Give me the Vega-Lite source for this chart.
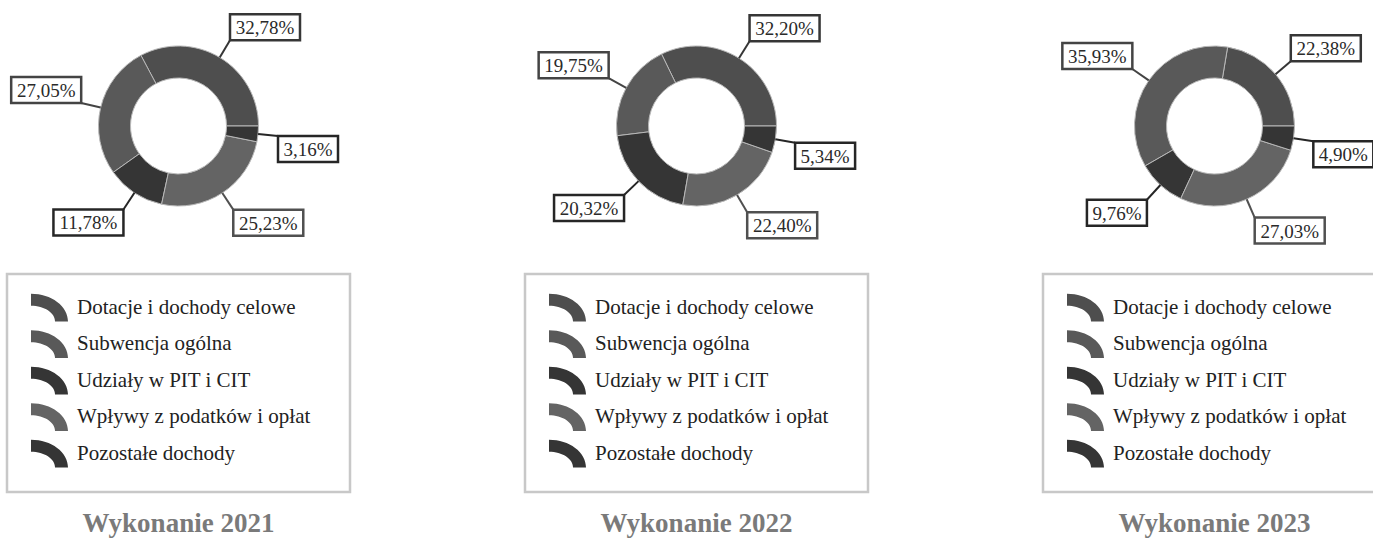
{
  "$schema": "https://vega.github.io/schema/vega-lite/v6.json",
  "background": "white",
  "padding": {"left": 5, "top": 0, "right": 0, "bottom": 0},
  "datasets": {
    "d": [
      {"year": 2021, "i": 1, "cat": "Dotacje i dochody celowe", "v": 32.78},
      {"year": 2021, "i": 2, "cat": "Subwencja ogólna", "v": 27.05},
      {"year": 2021, "i": 3, "cat": "Udziały w PIT i CIT", "v": 11.78},
      {"year": 2021, "i": 4, "cat": "Wpływy z podatków i opłat", "v": 25.23},
      {"year": 2021, "i": 5, "cat": "Pozostałe dochody", "v": 3.16},
      {"year": 2022, "i": 1, "cat": "Dotacje i dochody celowe", "v": 32.20},
      {"year": 2022, "i": 2, "cat": "Subwencja ogólna", "v": 19.75},
      {"year": 2022, "i": 3, "cat": "Udziały w PIT i CIT", "v": 20.32},
      {"year": 2022, "i": 4, "cat": "Wpływy z podatków i opłat", "v": 22.40},
      {"year": 2022, "i": 5, "cat": "Pozostałe dochody", "v": 5.34},
      {"year": 2023, "i": 1, "cat": "Dotacje i dochody celowe", "v": 22.38},
      {"year": 2023, "i": 2, "cat": "Subwencja ogólna", "v": 35.93},
      {"year": 2023, "i": 3, "cat": "Udziały w PIT i CIT", "v": 9.76},
      {"year": 2023, "i": 4, "cat": "Wpływy z podatków i opłat", "v": 27.03},
      {"year": 2023, "i": 5, "cat": "Pozostałe dochody", "v": 4.90}
    ]
  },
  "spacing": 171,
  "resolve": {"legend": {"color": "independent", "stroke": "independent"}, "scale": {"theta": "independent"}},
  "hconcat": [
    {
      "spacing": 20,
      "resolve": {"legend": {"color": "independent", "stroke": "independent"}, "scale": {"theta": "independent"}},
      "vconcat": [
        {
          "width": 343, "height": 252,
          "view": {"stroke": null},
          "data": {"name": "d"},
          "transform": [
            {"filter": "datum.year == 2021"},
            {"joinaggregate": [{"op": "sum", "field": "v", "as": "tot"}]},
            {"window": [{"op": "sum", "field": "v", "as": "cum"}], "sort": [{"field": "i"}], "frame": [null, 0]},
            {"calculate": "2*PI*(datum.cum - datum.v/2)/datum.tot", "as": "a"},
            {"calculate": "replace(format(datum.v, '.2f'), '.', ',') + '%'", "as": "lab"},
            {"calculate": "10*length(datum.lab) + 10", "as": "w"},
            {"calculate": "80*cos(datum.a)", "as": "x1"},
            {"calculate": "80*sin(datum.a)", "as": "y1"},
            {"calculate": "100*cos(datum.a)", "as": "x2"},
            {"calculate": "100*sin(datum.a)", "as": "y2"},
            {"calculate": "datum.x2 + (cos(datum.a) >= 0 ? 1 : -1)*datum.w/2", "as": "bx"},
            {"calculate": "datum.y2 + (sin(datum.a) >= 0 ? 1 : -1)*13", "as": "by"},
            {"calculate": "datum.bx - datum.w/2", "as": "bx1"},
            {"calculate": "datum.bx + datum.w/2", "as": "bx2"},
            {"calculate": "datum.by - 13", "as": "by1"},
            {"calculate": "datum.by + 13", "as": "by2"}
          ],
          "layer": [
            {
              "mark": {"type": "arc", "outerRadius": 80, "innerRadius": 48, "stroke": "#b8b8b8", "strokeWidth": 1},
              "encoding": {
                "theta": {"field": "v", "type": "quantitative", "stack": true, "scale": {"range": [1.5707963, -4.712389], "nice": false, "zero": true}},
                "order": {"field": "i", "type": "quantitative"},
                "color": {"field": "cat", "type": "nominal", "scale": {"domain": ["Dotacje i dochody celowe", "Subwencja ogólna", "Udziały w PIT i CIT", "Wpływy z podatków i opłat", "Pozostałe dochody"], "range": ["#4e4e4e", "#595959", "#353535", "#646464", "#353535"]}, "legend": null}
              }
            },
            {
              "mark": {"type": "rule", "strokeWidth": 2},
              "encoding": {
                "x": {"field": "x1", "type": "quantitative", "scale": {"domain": [-171.5, 171.5], "nice": false, "zero": false}, "axis": null},
                "y": {"field": "y1", "type": "quantitative", "scale": {"domain": [-126, 126], "nice": false, "zero": false}, "axis": null},
                "x2": {"field": "x2"},
                "y2": {"field": "y2"},
                "stroke": {"field": "cat", "type": "nominal", "scale": {"domain": ["Dotacje i dochody celowe", "Subwencja ogólna", "Udziały w PIT i CIT", "Wpływy z podatków i opłat", "Pozostałe dochody"], "range": ["#363636", "#444444", "#262626", "#505050", "#262626"]}, "legend": null}
              }
            },
            {
              "mark": {"type": "rect", "fill": "white", "strokeWidth": 2.5},
              "encoding": {
                "x": {"field": "bx1", "type": "quantitative"},
                "x2": {"field": "bx2"},
                "y": {"field": "by1", "type": "quantitative"},
                "y2": {"field": "by2"},
                "stroke": {"field": "cat", "type": "nominal", "legend": null}
              }
            },
            {
              "mark": {"type": "text", "font": "Liberation Serif", "fontSize": 19, "color": "#2a2a2a", "align": "center", "baseline": "middle", "dy": 1},
              "encoding": {
                "x": {"field": "bx", "type": "quantitative"},
                "y": {"field": "by", "type": "quantitative"},
                "text": {"field": "lab"}
              }
            }
          ]
        },
        {
          "width": 343, "height": 218,
          "view": {"stroke": "#c8c8c8", "strokeWidth": 2.5},
          "data": {"name": "d"},
          "transform": [{"filter": "datum.year == 2021"}],
          "title": {"text": "Wykonanie 2021", "orient": "bottom", "anchor": "middle", "offset": 19, "font": "Liberation Serif", "fontSize": 27, "fontWeight": "bold", "color": "#7a7a7a"},
          "mark": {"type": "point", "filled": true, "opacity": 0},
          "encoding": {
            "color": {"field": "cat", "type": "nominal", "scale": {"domain": ["Dotacje i dochody celowe", "Subwencja ogólna", "Udziały w PIT i CIT", "Wpływy z podatków i opłat", "Pozostałe dochody"], "range": ["#4e4e4e", "#595959", "#353535", "#646464", "#353535"]},
              "legend": {"orient": "none", "legendX": 24, "legendY": 15, "title": null, "symbolType": "M-1,-0.75A2,1.5 0 0 1 1,0.75L0.3,0.75A1.3,0.85 0 0 0 -1,-0.1Z", "symbolSize": 1369, "symbolOpacity": 1, "symbolStrokeWidth": 0, "labelFont": "Liberation Serif", "labelFontSize": 21, "labelColor": "#222222", "labelOffset": 9, "rowPadding": 3.5, "labelLimit": 400}}
          }
        }
      ]
    },
    {
      "spacing": 20,
      "resolve": {"legend": {"color": "independent", "stroke": "independent"}, "scale": {"theta": "independent"}},
      "vconcat": [
        {
          "width": 343, "height": 252,
          "view": {"stroke": null},
          "data": {"name": "d"},
          "transform": [
            {"filter": "datum.year == 2022"},
            {"joinaggregate": [{"op": "sum", "field": "v", "as": "tot"}]},
            {"window": [{"op": "sum", "field": "v", "as": "cum"}], "sort": [{"field": "i"}], "frame": [null, 0]},
            {"calculate": "2*PI*(datum.cum - datum.v/2)/datum.tot", "as": "a"},
            {"calculate": "replace(format(datum.v, '.2f'), '.', ',') + '%'", "as": "lab"},
            {"calculate": "10*length(datum.lab) + 10", "as": "w"},
            {"calculate": "80*cos(datum.a)", "as": "x1"},
            {"calculate": "80*sin(datum.a)", "as": "y1"},
            {"calculate": "100*cos(datum.a)", "as": "x2"},
            {"calculate": "100*sin(datum.a)", "as": "y2"},
            {"calculate": "datum.x2 + (cos(datum.a) >= 0 ? 1 : -1)*datum.w/2", "as": "bx"},
            {"calculate": "datum.y2 + (sin(datum.a) >= 0 ? 1 : -1)*13", "as": "by"},
            {"calculate": "datum.bx - datum.w/2", "as": "bx1"},
            {"calculate": "datum.bx + datum.w/2", "as": "bx2"},
            {"calculate": "datum.by - 13", "as": "by1"},
            {"calculate": "datum.by + 13", "as": "by2"}
          ],
          "layer": [
            {
              "mark": {"type": "arc", "outerRadius": 80, "innerRadius": 48, "stroke": "#b8b8b8", "strokeWidth": 1},
              "encoding": {
                "theta": {"field": "v", "type": "quantitative", "stack": true, "scale": {"range": [1.5707963, -4.712389], "nice": false, "zero": true}},
                "order": {"field": "i", "type": "quantitative"},
                "color": {"field": "cat", "type": "nominal", "scale": {"domain": ["Dotacje i dochody celowe", "Subwencja ogólna", "Udziały w PIT i CIT", "Wpływy z podatków i opłat", "Pozostałe dochody"], "range": ["#4e4e4e", "#595959", "#353535", "#646464", "#353535"]}, "legend": null}
              }
            },
            {
              "mark": {"type": "rule", "strokeWidth": 2},
              "encoding": {
                "x": {"field": "x1", "type": "quantitative", "scale": {"domain": [-171.5, 171.5], "nice": false, "zero": false}, "axis": null},
                "y": {"field": "y1", "type": "quantitative", "scale": {"domain": [-126, 126], "nice": false, "zero": false}, "axis": null},
                "x2": {"field": "x2"},
                "y2": {"field": "y2"},
                "stroke": {"field": "cat", "type": "nominal", "scale": {"domain": ["Dotacje i dochody celowe", "Subwencja ogólna", "Udziały w PIT i CIT", "Wpływy z podatków i opłat", "Pozostałe dochody"], "range": ["#363636", "#444444", "#262626", "#505050", "#262626"]}, "legend": null}
              }
            },
            {
              "mark": {"type": "rect", "fill": "white", "strokeWidth": 2.5},
              "encoding": {
                "x": {"field": "bx1", "type": "quantitative"},
                "x2": {"field": "bx2"},
                "y": {"field": "by1", "type": "quantitative"},
                "y2": {"field": "by2"},
                "stroke": {"field": "cat", "type": "nominal", "legend": null}
              }
            },
            {
              "mark": {"type": "text", "font": "Liberation Serif", "fontSize": 19, "color": "#2a2a2a", "align": "center", "baseline": "middle", "dy": 1},
              "encoding": {
                "x": {"field": "bx", "type": "quantitative"},
                "y": {"field": "by", "type": "quantitative"},
                "text": {"field": "lab"}
              }
            }
          ]
        },
        {
          "width": 343, "height": 218,
          "view": {"stroke": "#c8c8c8", "strokeWidth": 2.5},
          "data": {"name": "d"},
          "transform": [{"filter": "datum.year == 2022"}],
          "title": {"text": "Wykonanie 2022", "orient": "bottom", "anchor": "middle", "offset": 19, "font": "Liberation Serif", "fontSize": 27, "fontWeight": "bold", "color": "#7a7a7a"},
          "mark": {"type": "point", "filled": true, "opacity": 0},
          "encoding": {
            "color": {"field": "cat", "type": "nominal", "scale": {"domain": ["Dotacje i dochody celowe", "Subwencja ogólna", "Udziały w PIT i CIT", "Wpływy z podatków i opłat", "Pozostałe dochody"], "range": ["#4e4e4e", "#595959", "#353535", "#646464", "#353535"]},
              "legend": {"orient": "none", "legendX": 24, "legendY": 15, "title": null, "symbolType": "M-1,-0.75A2,1.5 0 0 1 1,0.75L0.3,0.75A1.3,0.85 0 0 0 -1,-0.1Z", "symbolSize": 1369, "symbolOpacity": 1, "symbolStrokeWidth": 0, "labelFont": "Liberation Serif", "labelFontSize": 21, "labelColor": "#222222", "labelOffset": 9, "rowPadding": 3.5, "labelLimit": 400}}
          }
        }
      ]
    },
    {
      "spacing": 20,
      "resolve": {"legend": {"color": "independent", "stroke": "independent"}, "scale": {"theta": "independent"}},
      "vconcat": [
        {
          "width": 343, "height": 252,
          "view": {"stroke": null},
          "data": {"name": "d"},
          "transform": [
            {"filter": "datum.year == 2023"},
            {"joinaggregate": [{"op": "sum", "field": "v", "as": "tot"}]},
            {"window": [{"op": "sum", "field": "v", "as": "cum"}], "sort": [{"field": "i"}], "frame": [null, 0]},
            {"calculate": "2*PI*(datum.cum - datum.v/2)/datum.tot", "as": "a"},
            {"calculate": "replace(format(datum.v, '.2f'), '.', ',') + '%'", "as": "lab"},
            {"calculate": "10*length(datum.lab) + 10", "as": "w"},
            {"calculate": "80*cos(datum.a)", "as": "x1"},
            {"calculate": "80*sin(datum.a)", "as": "y1"},
            {"calculate": "100*cos(datum.a)", "as": "x2"},
            {"calculate": "100*sin(datum.a)", "as": "y2"},
            {"calculate": "datum.x2 + (cos(datum.a) >= 0 ? 1 : -1)*datum.w/2", "as": "bx"},
            {"calculate": "datum.y2 + (sin(datum.a) >= 0 ? 1 : -1)*13", "as": "by"},
            {"calculate": "datum.bx - datum.w/2", "as": "bx1"},
            {"calculate": "datum.bx + datum.w/2", "as": "bx2"},
            {"calculate": "datum.by - 13", "as": "by1"},
            {"calculate": "datum.by + 13", "as": "by2"}
          ],
          "layer": [
            {
              "mark": {"type": "arc", "outerRadius": 80, "innerRadius": 48, "stroke": "#b8b8b8", "strokeWidth": 1},
              "encoding": {
                "theta": {"field": "v", "type": "quantitative", "stack": true, "scale": {"range": [1.5707963, -4.712389], "nice": false, "zero": true}},
                "order": {"field": "i", "type": "quantitative"},
                "color": {"field": "cat", "type": "nominal", "scale": {"domain": ["Dotacje i dochody celowe", "Subwencja ogólna", "Udziały w PIT i CIT", "Wpływy z podatków i opłat", "Pozostałe dochody"], "range": ["#4e4e4e", "#595959", "#353535", "#646464", "#353535"]}, "legend": null}
              }
            },
            {
              "mark": {"type": "rule", "strokeWidth": 2},
              "encoding": {
                "x": {"field": "x1", "type": "quantitative", "scale": {"domain": [-171.5, 171.5], "nice": false, "zero": false}, "axis": null},
                "y": {"field": "y1", "type": "quantitative", "scale": {"domain": [-126, 126], "nice": false, "zero": false}, "axis": null},
                "x2": {"field": "x2"},
                "y2": {"field": "y2"},
                "stroke": {"field": "cat", "type": "nominal", "scale": {"domain": ["Dotacje i dochody celowe", "Subwencja ogólna", "Udziały w PIT i CIT", "Wpływy z podatków i opłat", "Pozostałe dochody"], "range": ["#363636", "#444444", "#262626", "#505050", "#262626"]}, "legend": null}
              }
            },
            {
              "mark": {"type": "rect", "fill": "white", "strokeWidth": 2.5},
              "encoding": {
                "x": {"field": "bx1", "type": "quantitative"},
                "x2": {"field": "bx2"},
                "y": {"field": "by1", "type": "quantitative"},
                "y2": {"field": "by2"},
                "stroke": {"field": "cat", "type": "nominal", "legend": null}
              }
            },
            {
              "mark": {"type": "text", "font": "Liberation Serif", "fontSize": 19, "color": "#2a2a2a", "align": "center", "baseline": "middle", "dy": 1},
              "encoding": {
                "x": {"field": "bx", "type": "quantitative"},
                "y": {"field": "by", "type": "quantitative"},
                "text": {"field": "lab"}
              }
            }
          ]
        },
        {
          "width": 343, "height": 218,
          "view": {"stroke": "#c8c8c8", "strokeWidth": 2.5},
          "data": {"name": "d"},
          "transform": [{"filter": "datum.year == 2023"}],
          "title": {"text": "Wykonanie 2023", "orient": "bottom", "anchor": "middle", "offset": 19, "font": "Liberation Serif", "fontSize": 27, "fontWeight": "bold", "color": "#7a7a7a"},
          "mark": {"type": "point", "filled": true, "opacity": 0},
          "encoding": {
            "color": {"field": "cat", "type": "nominal", "scale": {"domain": ["Dotacje i dochody celowe", "Subwencja ogólna", "Udziały w PIT i CIT", "Wpływy z podatków i opłat", "Pozostałe dochody"], "range": ["#4e4e4e", "#595959", "#353535", "#646464", "#353535"]},
              "legend": {"orient": "none", "legendX": 24, "legendY": 15, "title": null, "symbolType": "M-1,-0.75A2,1.5 0 0 1 1,0.75L0.3,0.75A1.3,0.85 0 0 0 -1,-0.1Z", "symbolSize": 1369, "symbolOpacity": 1, "symbolStrokeWidth": 0, "labelFont": "Liberation Serif", "labelFontSize": 21, "labelColor": "#222222", "labelOffset": 9, "rowPadding": 3.5, "labelLimit": 400}}
          }
        }
      ]
    }
  ],
  "config": {"view": {"stroke": null}, "font": "Liberation Serif"}
}
